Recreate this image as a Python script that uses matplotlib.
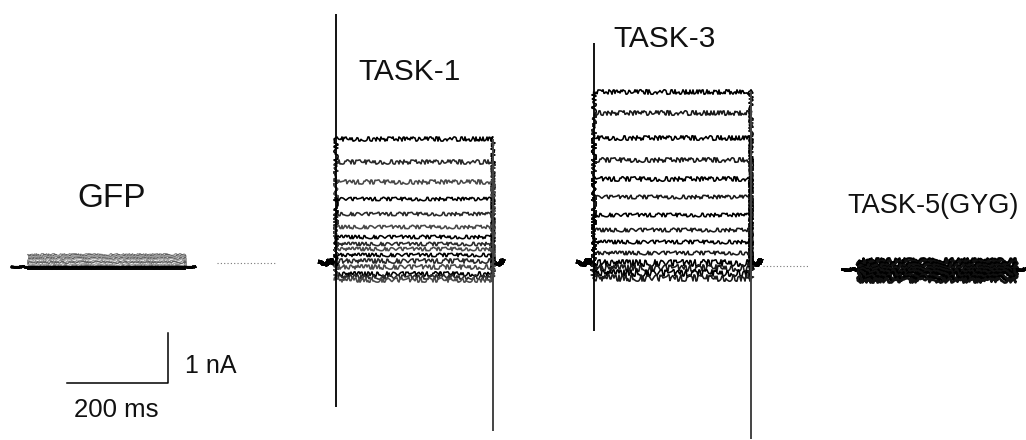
#!/usr/bin/env python3
"""Whole-cell current families for GFP, TASK-1, TASK-3 and TASK-5(GYG)
with a shared 200 ms / 1 nA scale bar."""
import matplotlib
matplotlib.use("Agg")
import matplotlib.pyplot as plt

plt.rcParams["font.family"] = ["Liberation Sans", "DejaVu Sans"]

# steady-state current during the test pulse (nA), one value per sweep
gfp_levels = [0.26, 0.24, 0.22, 0.20, 0.18, 0.16, 0.13, 0.10, 0.07, 0.04, 0.02, -0.02]
task1_levels = [2.46, 2.00, 1.60, 1.26, 0.96, 0.70, 0.50, 0.36, 0.26, 0.14, 0.02,
                -0.10, -0.24, -0.30, -0.36]
task3_levels = [3.40, 2.98, 2.48, 2.04, 1.66, 1.30, 0.94, 0.64, 0.40, 0.18, -0.02,
                -0.12, -0.22, -0.32]
task5_levels = [0.18, 0.14, 0.10, 0.06, 0.03, 0.0, -0.03, -0.06, -0.10, -0.14,
                -0.18, -0.22]

# capacitive transients (nA): (onset peak, onset trough, offset peak, offset trough)
task1_transients = (4.96, -2.90, 2.46, -3.38)
task3_transients = (4.38, -1.38, 3.40, -3.54)

# protocol timing (ms)
pre_ms = 32
pulse_ms = 310
post_ms = 20

PX_PER_MS = 101 / 200
PX_PER_NA = 50
W, H = 1026, 440
BASE_PX = 262


def noisy(line, scale, length=1.8, randomness=40):
    # sketch filter gives the traces their recording-noise look
    line.set_sketch_params(scale=scale, length=length, randomness=randomness)


def draw_family(ax, t0, levels, offset=0.0, colors=("black",), lw=1.15,
                scale=1.6, base_scale=2.5, base_lw=2.6, length=1.8, low_boost=1.0):
    on = t0 + pre_ms
    off = on + pulse_ms
    end = off + post_ms
    for i, lev in enumerate(levels):
        c = colors[i % len(colors)]
        # holding current before and after the step
        for xa, xb in ((t0, on), (off, end)):
            ln, = ax.plot([xa, xb], [offset, offset], color="black", lw=base_lw)
            noisy(ln, base_scale, 1.5)
        s = scale * (low_boost if lev < 0.1 else 1.0)
        if lev > 1.5:
            s *= 1.25
        ln, = ax.plot([on, on, off, off], [offset, offset + lev, offset + lev, offset],
                      color=c, lw=lw)
        noisy(ln, s, length)
    return on, off, end


def draw_transients(ax, on, off, trans, offset=0.0):
    up_on, dn_on, up_off, dn_off = trans
    ax.vlines(on, offset + dn_on, offset + up_on, color="black", lw=1.3)
    ax.vlines(off, offset + dn_off, offset + up_off, color="#444444", lw=1.4)


fig = plt.figure(figsize=(W / 100, H / 100), dpi=100)
ax = fig.add_axes([0, 0, 1, 1])
ax.set_xlim(0, W / PX_PER_MS)
ax.set_ylim(-(H - BASE_PX) / PX_PER_NA, BASE_PX / PX_PER_NA)
ax.axis("off")

# GFP
on, off, end = draw_family(ax, 23.8, gfp_levels, offset=-0.10,
                           colors=("#8a8a8a", "#5e5e5e", "#a0a0a0"), lw=0.9,
                           scale=0.9, base_scale=0.3, base_lw=1.6, length=2.0)
ax.plot([23.8, end], [-0.10, -0.10], color="black", lw=1.6)
ax.plot([on, off], [-0.13, -0.13], color="black", lw=1.4)
ax.plot([430, 545], [-0.02, -0.02], color="#777777", lw=0.8, ls=(0, (1, 2)))

# TASK-1
on, off, end = draw_family(ax, 633.7, task1_levels,
                           colors=("black", "#2a2a2a", "#4a4a4a"),
                           scale=1.7, base_scale=2.4, low_boost=1.3)
draw_transients(ax, on, off, task1_transients)

# TASK-3
on, off, end = draw_family(ax, 1144.6, task3_levels, colors=("black", "#1a1a1a"),
                           scale=1.8, base_scale=2.8, low_boost=1.8)
draw_transients(ax, on, off, task3_transients)
ax.plot([end + 4, 1600], [-0.08, -0.08], color="#777777", lw=0.8, ls=(0, (1, 2)))

# TASK-5(GYG)
on, off, end = draw_family(ax, 1667.3, task5_levels, offset=-0.14,
                           colors=("black", "#111111"), lw=1.8,
                           scale=2.2, base_scale=0.8, base_lw=2.0, length=2.0)

# labels
ax.text(222, 1.10, "GFP", fontsize=24, ha="center", va="baseline", color="#111111")
ax.text(812, 3.64, "TASK-1", fontsize=21.5, ha="center", va="baseline", color="#111111")
ax.text(1315, 4.30, "TASK-3", fontsize=21.5, ha="center", va="baseline", color="#111111")
ax.text(1677, 0.98, "TASK-5(GYG)", fontsize=19.5, ha="left", va="baseline",
        color="#111111")

# scale bar
bar_y = -2.42
bar_x = 332.7
ax.plot([bar_x - 200, bar_x, bar_x], [bar_y, bar_y, bar_y + 1], color="black", lw=1.1)
ax.text(bar_x + 34, bar_y + 0.2, "1 nA", fontsize=18, ha="left", va="baseline",
        color="#111111")
ax.text(bar_x - 102, bar_y - 0.68, "200 ms", fontsize=18.5, ha="center", va="baseline",
        color="#111111")

fig.savefig("out.png", dpi=100)
